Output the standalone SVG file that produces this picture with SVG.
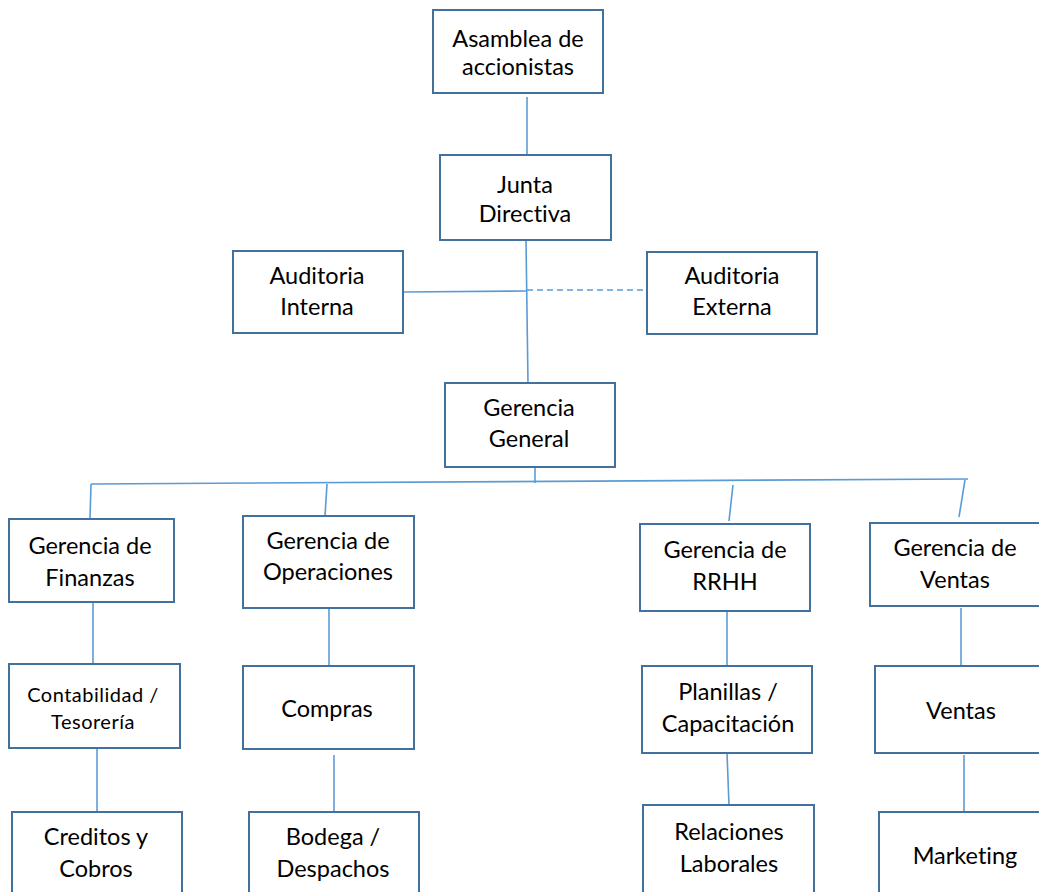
<svg xmlns="http://www.w3.org/2000/svg" width="1039" height="892" viewBox="0 0 1039 892">
<style>
.box{fill:#fff;stroke:#41719c;stroke-width:2}
.t{font-family:Lato,"Liberation Sans",sans-serif;font-size:23.5px;fill:#000;text-anchor:middle;font-variant-ligatures:none}
.s{font-size:20px;letter-spacing:0.5px}
.c{stroke:#5b9bd5;stroke-width:1.6;fill:none}
.d{stroke-dasharray:6,4}
</style>
<rect width="1039" height="892" fill="#fff"/>
<g id="connectors">
<line class="c" x1="527" y1="97" x2="527" y2="155"/>
<line class="c" x1="526" y1="240" x2="528" y2="383"/>
<line class="c" x1="404" y1="292" x2="527" y2="291"/>
<line class="c d" x1="527" y1="290" x2="647" y2="290"/>
<line class="c" x1="535" y1="463" x2="535" y2="483"/>
<line class="c" x1="91" y1="484" x2="968" y2="479"/>
<line class="c" x1="91" y1="484" x2="90" y2="519"/>
<line class="c" x1="327" y1="484" x2="325" y2="516"/>
<line class="c" x1="733" y1="485" x2="729" y2="521"/>
<line class="c" x1="965" y1="480" x2="959" y2="517"/>
<line class="c" x1="93" y1="602" x2="93" y2="669"/>
<line class="c" x1="97" y1="748" x2="97" y2="816"/>
<line class="c" x1="329" y1="608" x2="329" y2="666"/>
<line class="c" x1="334" y1="755" x2="334" y2="812"/>
<line class="c" x1="727" y1="611" x2="727" y2="668"/>
<line class="c" x1="727" y1="753" x2="729" y2="805"/>
<line class="c" x1="961" y1="608" x2="961" y2="666"/>
<line class="c" x1="964" y1="755" x2="964" y2="812"/>
</g>
<g id="asamblea"><rect class="box" x="433" y="10" width="170" height="83"/><text class="t" x="518" y="47">Asamblea de</text><text class="t" x="518" y="75">accionistas</text></g>
<g id="junta"><rect class="box" x="440" y="155" width="171" height="85"/><text class="t" x="525" y="193">Junta</text><text class="t" x="525" y="222">Directiva</text></g>
<g id="aud-interna"><rect class="box" x="233" y="251" width="170" height="82"/><text class="t" x="317" y="284">Auditoria</text><text class="t" x="317" y="315">Interna</text></g>
<g id="aud-externa"><rect class="box" x="647" y="252" width="170" height="82"/><text class="t" x="732" y="284">Auditoria</text><text class="t" x="732" y="315">Externa</text></g>
<g id="gerencia-general"><rect class="box" x="445" y="383" width="170" height="84"/><text class="t" x="529" y="416">Gerencia</text><text class="t" x="529" y="447">General</text></g>
<g id="finanzas"><rect class="box" x="9" y="519" width="165" height="83"/><text class="t" x="90" y="554">Gerencia de</text><text class="t" x="90" y="586">Finanzas</text></g>
<g id="operaciones"><rect class="box" x="243" y="516" width="171" height="92"/><text class="t" x="328" y="549">Gerencia de</text><text class="t" x="328" y="580">Operaciones</text></g>
<g id="rrhh"><rect class="box" x="640" y="524" width="170" height="87"/><text class="t" x="725" y="558">Gerencia de</text><text class="t" x="725" y="590">RRHH</text></g>
<g id="gerencia-ventas"><rect class="box" x="870" y="523" width="180" height="83"/><text class="t" x="955" y="556">Gerencia de</text><text class="t" x="955" y="588">Ventas</text></g>
<g id="contabilidad"><rect class="box" x="9" y="664" width="171" height="84"/><text class="t s" x="93" y="702">Contabilidad /</text><text class="t s" x="93" y="729">Tesorería</text></g>
<g id="compras"><rect class="box" x="243" y="666" width="171" height="83"/><text class="t" x="327" y="717">Compras</text></g>
<g id="planillas"><rect class="box" x="642" y="666" width="170" height="87"/><text class="t" x="728" y="700">Planillas /</text><text class="t" x="728" y="732">Capacitación</text></g>
<g id="ventas"><rect class="box" x="875" y="666" width="175" height="87"/><text class="t" x="961" y="719">Ventas</text></g>
<g id="creditos"><rect class="box" x="12" y="812" width="170" height="90"/><text class="t" x="96" y="845">Creditos y</text><text class="t" x="96" y="877">Cobros</text></g>
<g id="bodega"><rect class="box" x="249" y="812" width="170" height="90"/><text class="t" x="333" y="845">Bodega /</text><text class="t" x="333" y="877">Despachos</text></g>
<g id="relaciones"><rect class="box" x="643" y="805" width="171" height="97"/><text class="t" x="729" y="840">Relaciones</text><text class="t" x="729" y="872">Laborales</text></g>
<g id="marketing"><rect class="box" x="879" y="812" width="171" height="90"/><text class="t" x="965" y="864">Marketing</text></g>
</svg>
